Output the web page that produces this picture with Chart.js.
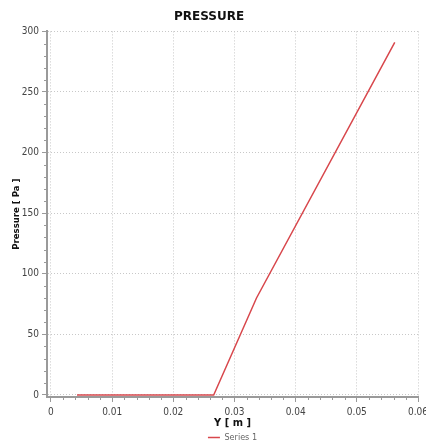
<!DOCTYPE html>
<html>
<head>
<meta charset="utf-8">
<script src="https://cdn.jsdelivr.net/npm/chart.js@4"></script>
<style>
  html, body { margin: 0; padding: 0; background: #fff; overflow: hidden; }
  #wrap { width: 426px; height: 443px; position: relative; }
</style>
</head>
<body>
<div id="wrap"><canvas id="pressureChart" width="426" height="443"></canvas></div>
<script>
// Pressure profile
var yPositions = [0.00425, 0.0266, 0.0336, 0.0562];
var pressureValues = [0, 0, 80, 291];
var xTickValues = [0, 0.01, 0.02, 0.03, 0.04, 0.05, 0.06];
var yTickValues = [0, 50, 100, 150, 200, 250, 300];

var FONT = "'DejaVu Sans Condensed', 'DejaVu Sans', sans-serif";
var GRID = '#c8c8c8';
var AXIS = '#9a9a9a';

// short minor tick marks between the labelled ones
var minorTicks = {
  id: 'minorTicks',
  afterDraw: function (chart) {
    var ctx = chart.ctx;
    var xs = chart.scales.x, ys = chart.scales.y;
    var area = chart.chartArea;
    ctx.save();
    ctx.strokeStyle = AXIS;
    ctx.lineWidth = 1;
    ctx.beginPath();
    for (var i = 1; i < 30; i++) {
      if (i % 5 === 0) continue;
      var py = Math.round(ys.getPixelForValue(i * 10)) + 0.5;
      ctx.moveTo(area.left - 3, py);
      ctx.lineTo(area.left, py);
    }
    for (var j = 1; j < 30; j++) {
      if (j % 5 === 0) continue;
      var px = Math.round(xs.getPixelForValue(j * 0.002)) + 0.5;
      ctx.moveTo(px, area.bottom);
      ctx.lineTo(px, area.bottom + 3);
    }
    ctx.stroke();
    ctx.restore();
  }
};

var points = yPositions.map(function (x, i) { return { x: x, y: pressureValues[i] }; });

new Chart(document.getElementById('pressureChart'), {
  type: 'line',
  data: {
    datasets: [{
      label: 'Series 1',
      data: points,
      borderColor: '#d8474c',
      backgroundColor: '#d8474c',
      borderWidth: 1.5,
      pointRadius: 0,
      tension: 0
    }]
  },
  options: {
    responsive: false,
    animation: false,
    // legend sits a little lower than chart.js would put it
    layout: { padding: { left: 0, right: 8, top: 0, bottom: -9 } },
    plugins: {
      title: {
        display: true,
        text: 'PRESSURE',
        color: '#111',
        font: { family: "'DejaVu Sans', sans-serif", size: 12, weight: 'bold' },
        padding: { top: 10, bottom: 7 }
      },
      legend: {
        display: true,
        position: 'bottom',
        fullSize: false,
        labels: {
          usePointStyle: true,
          pointStyle: 'line',
          pointStyleWidth: 12,
          boxHeight: 6,
          padding: 14,
          color: '#666',
          font: { family: FONT, size: 9 }
        }
      },
      tooltip: { enabled: false }
    },
    scales: {
      x: {
        type: 'linear',
        min: -0.00065,
        max: 0.06,
        afterBuildTicks: function (s) { s.ticks = xTickValues.map(function (v) { return { value: v }; }); },
        afterFit: function (s) { s.paddingRight = 0; s.height = 22; },
        ticks: {
          color: '#444',
          font: { family: FONT, size: 10 },
          padding: 4,
          maxRotation: 0,
          callback: function (v) { return v === 0 ? '0' : v.toFixed(2); }
        },
        grid: { color: GRID, tickColor: AXIS, tickLength: 5 },
        border: { color: AXIS, width: 2, dash: [1, 2] },
        title: {
          display: true,
          text: 'Y [ m ]',
          color: '#111',
          font: { family: FONT, size: 11, weight: 'bold' },
          padding: { top: 0, bottom: -11 }
        }
      },
      y: {
        type: 'linear',
        min: -1.7,
        max: 300,
        afterBuildTicks: function (s) { s.ticks = yTickValues.map(function (v) { return { value: v }; }); },
        afterFit: function (s) { s.width = 47; },
        ticks: {
          color: '#444',
          font: { family: FONT, size: 10 },
          padding: 3
        },
        grid: { color: GRID, tickColor: AXIS, tickLength: 5 },
        border: { color: AXIS, width: 2, dash: [1, 2] },
        title: {
          display: true,
          text: 'Pressure [ Pa ]',
          color: '#111',
          font: { family: FONT, size: 9.5, weight: 'bold' },
          padding: { top: 11, bottom: 0 }
        }
      }
    }
  },
  plugins: [minorTicks]
});
</script>
</body>
</html>
